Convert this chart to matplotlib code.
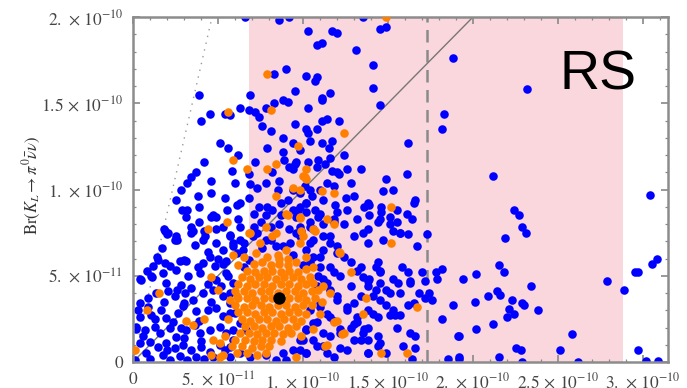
import numpy as np
import matplotlib
matplotlib.use("Agg")
import matplotlib.pyplot as plt

# values in units of 1e-11 : (Br(K+ -> pi+ nu nu), Br(KL -> pi0 nu nu))
blue_points = [
    # upper part of the plot
    (6.6, 20.0), (8.6, 19.8), (9.2, 20.0), (10.3, 19.2), (11.7, 19.2), (12.0, 19.1), (13.5, 20.0),
    (14.5, 19.3), (14.9, 19.4), (10.8, 18.4), (11.1, 18.5), (13.1, 18.1), (14.1, 17.2), (9.0, 17.0),
    (8.3, 16.7), (10.2, 16.6), (10.8, 16.5), (10.7, 16.3), (14.1, 15.9), (9.5, 15.7), (3.9, 15.5),
    (6.9, 15.5), (11.6, 15.6), (8.8, 15.2), (9.1, 15.1), (11.1, 15.3), (8.3, 15.0), (14.5, 14.9),
    (7.8, 14.7), (10.3, 14.7), (6.3, 14.7), (6.8, 14.6), (7.2, 14.5), (5.4, 14.4), (5.7, 14.3),
    (4.5, 14.4), (18.8, 17.6), (23.2, 15.8), (11.1, 15.2),
    # 7e-11 .. 14e-11
    (4.0, 14.0), (7.4, 14.2), (7.6, 13.7), (9.5, 13.8), (10.2, 13.5), (10.3, 13.3), (5.1, 12.7),
    (5.6, 12.4), (7.9, 12.4), (8.8, 12.2), (8.9, 11.7), (9.8, 12.3), (4.2, 11.6), (9.5, 11.5),
    (9.4, 11.2), (3.7, 11.0), (3.4, 10.7), (3.2, 10.4), (2.8, 10.0), (4.6, 10.5), (4.6, 9.8),
    (3.8, 9.6), (2.5, 9.4), (2.9, 8.8), (6.1, 9.1), (6.8, 10.9), (6.9, 10.3), (7.3, 10.1), (6.8, 9.5),
    (8.2, 11.0), (8.6, 10.5), (8.5, 10.0), (4.6, 8.4), (4.9, 8.4), (3.1, 8.4), (3.4, 7.8), (3.5, 7.6),
    (6.2, 8.3), (6.3, 7.8), (5.3, 7.8), (3.9, 8.1), (4.2, 7.6), (2.5, 7.3), (1.9, 7.6), (7.4, 9.0),
    (7.8, 8.5), (8.2, 8.8), (8.7, 9.2), (9.1, 9.4), (9.7, 8.8), (10.2, 8.7), (7.1, 7.8), (7.5, 8.1),
    (8.1, 7.8), (8.6, 8.0), (9.2, 7.7), (9.9, 7.6), (10.4, 7.8),
    (18.3, 14.4), (18.2, 13.5), (10.8, 13.5), (11.1, 14.0), (11.4, 14.1), (12.1, 14.0), (10.4, 12.8),
    (11.1, 12.7), (11.5, 12.4), (11.7, 12.8), (16.2, 12.7), (9.4, 12.7), (10.3, 11.6), (10.9, 11.7),
    (11.6, 11.8), (9.6, 11.6), (9.2, 11.3), (10.8, 11.3), (11.3, 11.5), (13.4, 11.2), (11.7, 11.1),
    (12.0, 11.0), (12.1, 10.9), (16.1, 10.9), (14.9, 10.6), (14.7, 9.9), (15.3, 10.0), (16.6, 9.4),
    (13.8, 9.2), (13.9, 9.1), (14.6, 9.0), (14.6, 8.7), (13.9, 8.5), (16.1, 8.6), (16.4, 8.3),
    (15.1, 8.4), (15.1, 8.0), (15.5, 8.1), (14.4, 8.1), (15.7, 7.5), (16.2, 7.4), (17.3, 7.4),
    (13.5, 7.5), (11.2, 9.4), (11.9, 9.1), (12.0, 8.7), (11.8, 8.3), (11.6, 7.3), (9.4, 10.0),
    (9.8, 9.8), (10.1, 10.2), (10.4, 10.0), (10.5, 9.6), (10.2, 9.2), (9.8, 9.0), (10.7, 8.8),
    (10.9, 8.4), (10.4, 8.1), (9.8, 7.8), (10.6, 7.7), (11.2, 8.0), (9.6, 8.4),
    (12.4, 12.0), (12.8, 10.4), (13.0, 9.6), (12.5, 9.5), (13.2, 8.3), (12.4, 8.0), (11.4, 10.4),
    (11.0, 10.0), (11.8, 10.2), (12.6, 11.2), (8.8, 13.0), (8.1, 13.4), (6.2, 12.0), (7.2, 11.6),
    (6.0, 10.4), (5.4, 9.5), (5.8, 11.1), (7.8, 10.4),
    # middle band right of the core
    (15.3, 7.6), (13.8, 6.9), (14.4, 5.8), (14.3, 5.5), (15.8, 5.5), (16.2, 5.2), (17.0, 5.2),
    (16.3, 4.7), (17.8, 5.2), (18.2, 5.4), (17.9, 4.8), (17.2, 4.7), (19.4, 4.8), (15.3, 4.8),
    (15.6, 4.6), (15.1, 4.0), (14.5, 5.2), (14.5, 4.6), (14.3, 4.2), (13.8, 4.7), (16.8, 4.0),
    (17.4, 4.0), (17.6, 3.6), (17.2, 3.7), (18.8, 3.3), (16.2, 3.3), (14.9, 3.3), (15.1, 2.7),
    (15.4, 2.7), (15.7, 2.7), (18.2, 2.5), (16.6, 1.5), (19.1, 1.5), (15.9, 0.9), (16.6, 0.8),
    (18.5, 0.2), (19.2, 0.2), (16.4, 0.2), (14.4, 0.9), (12.2, 0.8), (13.8, 0.5), (13.2, 2.3),
    (13.6, 1.9), (14.4, 1.5), (13.8, 1.3), (12.4, 6.1), (12.8, 5.8), (13.2, 5.3), (13.5, 4.9),
    (13.8, 4.4), (14.1, 3.8), (13.4, 3.8), (13.0, 3.4), (12.6, 3.0), (13.8, 3.0), (14.4, 2.6),
    (13.2, 2.6), (12.8, 2.0), (12.2, 1.9), (11.6, 1.5), (13.0, 1.3), (13.5, 1.7), (11.6, 6.9),
    (12.0, 6.3), (11.2, 6.5), (10.6, 6.1), (10.4, 5.8), (11.0, 5.5), (11.8, 5.2), (11.2, 4.8),
    (10.8, 4.4), (11.6, 4.2), (12.0, 3.6), (11.0, 3.4), (10.4, 3.0), (11.4, 2.8), (11.8, 2.4),
    (10.8, 2.3), (10.2, 1.9), (11.2, 1.7), (10.0, 1.3), (10.8, 0.9), (9.8, 0.7), (11.4, 0.5),
    (11.0, 6.1), (11.6, 5.5), (12.2, 5.0), (12.8, 4.4), (11.4, 4.6), (12.0, 3.8), (12.6, 3.2),
    (11.0, 3.2), (11.6, 2.6), (13.0, 2.2), (12.2, 1.7), (13.4, 1.3), (13.8, 2.0), (14.1, 2.8),
    (14.5, 3.6), (13.4, 5.5), (13.9, 4.8), (14.5, 5.3), (14.9, 4.2), (15.3, 3.0), (15.7, 4.0),
    (16.3, 4.6), (16.5, 3.4), (15.5, 2.0), (16.3, 1.7), (14.5, 1.1), (13.8, 0.5), (14.9, 0.5),
    (12.6, 0.7), (11.2, 0.9), (11.8, 0.3), (10.2, 0.5), (10.6, 1.3),
    (3.2, 8.8), (3.9, 9.0), (4.7, 8.5), (5.5, 8.8), (6.3, 9.2), (7.1, 8.6), (7.9, 9.0), (8.7, 8.5),
    (9.4, 8.8), (10.2, 9.2), (11.0, 8.6), (11.8, 8.1), (12.6, 8.8), (13.6, 9.0), (14.5, 8.3),
    (15.5, 8.8), (16.5, 9.2), (3.4, 7.5), (4.1, 7.1), (4.9, 7.7), (5.7, 7.3), (6.5, 6.9), (7.3, 7.5),
    (8.1, 7.1), (8.8, 6.7), (9.6, 7.5), (10.4, 6.9), (11.2, 7.3), (12.0, 6.7), (13.0, 7.3),
    (13.8, 7.7), (14.7, 7.1), (15.7, 7.5), (16.7, 6.7), (3.0, 5.9), (3.8, 5.5), (4.5, 6.1),
    (5.3, 5.7), (6.1, 6.3),
    # right hand side
    (21.2, 10.8), (22.4, 8.8), (22.7, 8.5), (22.9, 7.8), (23.1, 7.5), (21.9, 7.2), (30.4, 9.7),
    (30.8, 6.0), (30.5, 5.7), (29.5, 5.2), (29.7, 5.2), (21.5, 5.6), (21.8, 5.2), (20.2, 5.1),
    (27.9, 4.7), (28.9, 4.2), (23.4, 4.4), (20.9, 3.8), (21.4, 4.1), (21.6, 3.9), (20.1, 3.5),
    (22.3, 3.6), (22.9, 3.4), (23.0, 3.3), (22.1, 3.1), (22.0, 2.6), (22.4, 2.8), (23.8, 3.0),
    (21.2, 2.2), (20.2, 1.9), (25.8, 1.6), (22.5, 0.8), (22.8, 0.7), (25.1, 0.7), (29.7, 0.7),
    (21.5, 0.3), (22.9, 0.0), (26.2, 0.0), (30.2, 0.05), (30.9, 0.05), (19.2, 1.5), (19.2, 0.3),
    # lower left
    (1.8, 7.7), (2.0, 7.4), (2.6, 7.1), (1.7, 6.6), (1.4, 6.1), (0.8, 5.3), (1.1, 4.9), (0.4, 4.8),
    (0.2, 1.9), (0.6, 1.5),
    (2.06, 7.48), (2.45, 7.09), (3.63, 6.80), (4.22, 7.29), (4.90, 6.90), (5.69, 7.38), (6.27, 7.09),
    (5.29, 6.51), (5.88, 6.71), (1.47, 5.93), (1.86, 5.74), (2.75, 5.83), (3.14, 5.83), (4.12, 5.74),
    (4.80, 5.54), (5.49, 5.83), (1.18, 5.54), (2.16, 5.54), (1.08, 4.96), (1.76, 5.16), (2.55, 5.35),
    (3.24, 4.96), (3.92, 5.16), (4.90, 4.77), (5.49, 5.16), (1.96, 4.57), (2.84, 4.48), (0.49, 4.77),
    (0.88, 3.70), (1.37, 3.99), (2.06, 4.09), (2.45, 3.80), (3.04, 3.99), (3.53, 3.60), (4.12, 3.99),
    (4.71, 4.19), (5.29, 3.80), (5.69, 3.99), (0.39, 3.41), (0.29, 3.02), (1.08, 2.73), (1.67, 3.02),
    (1.96, 2.54), (2.65, 2.83), (2.94, 3.22), (3.73, 2.93), (4.41, 3.02), (4.90, 3.12), (5.29, 2.64),
    (5.69, 2.83), (2.35, 2.34), (0.20, 2.05), (0.69, 1.86), (1.27, 2.05), (1.57, 1.67), (2.16, 1.96),
    (2.55, 1.47), (3.14, 1.86), (3.63, 2.15), (3.92, 1.67), (4.51, 1.86), (5.10, 2.05), (5.49, 1.67),
    (5.88, 1.86), (0.39, 1.09), (0.98, 1.18), (1.47, 0.89), (1.96, 1.09), (2.45, 0.79), (2.94, 0.99),
    (3.43, 0.70), (4.02, 0.89), (4.51, 0.60), (5.10, 0.99), (5.69, 0.89), (0.78, 0.50), (1.76, 0.41),
    (2.75, 0.35), (3.73, 0.31), (4.71, 0.31), (5.69, 0.31), (6.27, 0.50), (6.86, 0.31), (7.84, 0.41),
    (5.88, 6.90), (6.47, 6.51), (7.06, 7.29), (7.84, 7.09), (8.43, 6.71), (9.22, 6.90), (9.80, 7.29),
    (10.2, 6.51), (10.6, 7.09), (5.88, 4.57), (5.69, 3.41), (5.98, 2.83), (6.27, 2.25), (6.67, 1.86),
    (5.88, 1.28), (10.2, 1.86), (9.80, 1.28), (10.6, 2.25), (8.82, 0.50), (9.41, 0.70), (10.2, 0.50),
    (0.1, 0.1), (1.0, 0.2), (2.2, 0.1), (3.2, 0.1), (4.2, 0.2), (8.4, 0.1), (9.0, 0.1),
    (4.4, 6.4), (5.0, 6.0), (6.8, 5.9), (7.6, 6.6), (9.4, 6.2), (10.0, 5.6), (10.9, 5.0), (5.6, 5.0),
    (5.2, 4.4), (4.4, 4.5), (3.4, 4.3), (2.6, 4.2), (3.0, 3.4), (4.6, 3.5), (3.9, 2.4), (2.8, 2.0),
    (1.3, 2.5), (0.9, 3.2), (4.0, 1.2), (3.0, 1.4), (2.0, 0.7), (0.4, 2.6), (1.8, 3.5), (5.4, 0.7),
    (6.5, 5.5),
]

orange_points = [
    (7.9, 16.7), (5.6, 14.5), (8.1, 14.6), (14.9, 20.0), (9.7, 12.5), (5.9, 11.7), (6.7, 11.2),
    (7.9, 11.2), (8.4, 11.5), (10.2, 11.2), (10.1, 10.7), (9.4, 10.1), (8.4, 9.6), (9.8, 10.0),
    (9.1, 8.5), (9.8, 8.4), (5.5, 8.1), (4.4, 7.7), (6.8, 7.5), (7.8, 7.8), (8.4, 7.5), (9.9, 7.6),
    (12.4, 13.3), (10.0, 10.8), (10.2, 10.6), (11.1, 9.9), (11.8, 9.8), (15.2, 9.0), (11.4, 8.3),
    (11.8, 8.0), (10.7, 7.6), (10.0, 7.3), (15.2, 6.9), (16.7, 3.2), (13.7, 3.7), (13.5, 2.8),
    (11.8, 2.3), (12.0, 2.4), (12.3, 1.6), (11.3, 0.9), (14.6, 0.5), (16.1, 0.5), (12.1, 6.4),
    (12.8, 5.2), (11.6, 4.0), (11.1, 3.5), (10.6, 1.9), (9.9, 1.5), (9.6, 0.3), (1.5, 4.0),
    (0.8, 3.0), (0.1, 0.7), (4.6, 4.9), (5.9, 6.2), (5.0, 4.2), (3.1, 2.4), (3.5, 2.15), (4.2, 2.5),
    (4.7, 1.3), (5.1, 1.1), (4.6, 0.4), (5.3, 0.4), (6.1, 3.8), (6.9, 7.5), (7.45, 6.9), (8.2, 7.3),
    (9.0, 6.5), (9.8, 6.9), (6.5, 6.1), (7.25, 6.3), (8.6, 6.0), (10.2, 6.1), (9.0, 8.6), (9.8, 8.35),
    (10.6, 7.7), (12.2, 6.3), (12.4, 1.7), (11.4, 1.0), (5.1, 0.3),
    # dense core around the SM point
    (7.9, 6.1), (8.5, 6.2), (9.1, 6.0),
    (7.1, 5.7), (7.6, 5.8), (8.1, 5.6), (8.6, 5.7), (9.1, 5.6), (9.6, 5.8),
    (6.7, 5.3), (7.2, 5.2), (7.7, 5.3), (8.2, 5.3), (8.7, 5.2), (9.2, 5.3), (9.7, 5.2), (10.2, 5.4),
    (6.4, 4.9), (6.9, 4.8), (7.4, 4.9), (7.9, 4.9), (8.4, 4.8), (8.9, 4.9), (9.4, 4.9), (9.9, 4.8),
    (10.4, 4.9),
    (6.2, 4.5), (6.7, 4.4), (7.2, 4.5), (7.7, 4.5), (8.2, 4.4), (8.7, 4.5), (9.2, 4.5), (9.7, 4.4),
    (10.2, 4.5), (10.6, 4.6),
    (6.0, 4.1), (6.5, 4.1), (7.0, 4.0), (7.5, 4.1), (8.0, 4.1), (8.5, 4.0), (9.0, 4.1), (9.5, 4.1),
    (10.0, 4.0), (10.5, 4.1), (10.9, 4.2),
    (6.2, 3.7), (6.7, 3.7), (7.2, 3.6), (7.7, 3.7), (8.2, 3.7), (8.7, 3.6), (9.2, 3.7), (9.7, 3.7),
    (10.2, 3.6), (10.7, 3.7),
    (6.0, 3.3), (6.5, 3.2), (7.0, 3.3), (7.5, 3.3), (8.0, 3.2), (8.5, 3.3), (9.0, 3.3), (9.5, 3.2),
    (10.0, 3.3), (10.5, 3.3),
    (6.2, 2.9), (6.7, 2.9), (7.2, 2.8), (7.7, 2.9), (8.2, 2.9), (8.7, 2.8), (9.2, 2.9), (9.7, 2.9),
    (10.2, 2.8),
    (6.4, 2.5), (6.9, 2.4), (7.4, 2.5), (7.9, 2.5), (8.4, 2.4), (8.9, 2.5), (9.4, 2.5), (9.9, 2.4),
    (6.6, 2.1), (7.1, 2.1), (7.6, 2.0), (8.1, 2.1), (8.6, 2.1), (9.1, 2.0), (9.6, 2.1),
    (6.3, 1.7), (6.8, 1.7), (7.3, 1.6), (7.8, 1.7), (8.3, 1.7), (8.8, 1.6), (9.3, 1.7),
    (6.0, 1.3), (6.6, 1.3), (7.1, 1.2), (7.6, 1.3), (8.1, 1.3), (8.7, 1.2),
    (5.8, 0.9), (6.4, 0.9), (7.0, 0.8), (7.5, 0.9), (8.0, 0.9),
    (6.1, 0.5), (6.7, 0.5), (7.3, 0.4), (7.8, 0.5),
    (5.6, 2.5), (5.4, 1.5), (11.2, 4.4), (11.0, 2.8), (10.6, 5.5), (6.2, 5.6), (5.7, 3.6),
]

sm_point = (8.6, 3.7)

# experimental band (K+ -> pi+ nu nu) and central value
band_lo, band_hi, band_central = 6.8, 28.8, 17.3
gn_slope = 4.3  # Grossman-Nir bound

x_ticks = [0, 5, 10, 15, 20, 25, 30]
x_tick_labels = ['0', r'$5.\,\times\,10^{-11}$', r'$1.\,\times\,10^{-10}$', r'$1.5\,\times\,10^{-10}$',
                 r'$2.\,\times\,10^{-10}$', r'$2.5\,\times\,10^{-10}$', r'$3.\,\times\,10^{-10}$']
y_ticks = [0, 5, 10, 15, 20]
y_tick_labels = ['0', r'$5.\,\times\,10^{-11}$', r'$1.\,\times\,10^{-10}$', r'$1.5\,\times\,10^{-10}$',
                 r'$2.\,\times\,10^{-10}$']

plt.rcParams['mathtext.fontset'] = 'stix'
plt.rcParams['font.family'] = 'STIXGeneral'

unit = 1e-11
xmax, ymax = 31.47, 20.0

fig = plt.figure(figsize=(6.87, 3.88), dpi=100)
ax = fig.add_axes([133 / 687, 1 - 362 / 388, 535 / 687, 345 / 388])

ax.axvspan(band_lo * unit, band_hi * unit, color='#f9d7dc', lw=0, zorder=0)
ax.axvline(band_central * unit, color='#8a8a8a', lw=1.8, ls=(0, (5, 3)), zorder=1)
xx = np.array([0, xmax]) * unit
ax.plot(xx, xx, color='#777777', lw=1.0, zorder=1)
ax.plot(xx, gn_slope * xx, color='#999999', lw=1.0, ls=(0, (1, 4)), zorder=1)

bx, by = np.array(blue_points).T
ox, oy = np.array(orange_points).T
ax.scatter(bx * unit, by * unit, s=38, color='#0000ff', lw=0, zorder=2)
ax.scatter(ox * unit, oy * unit, s=38, color='#ff7f00', lw=0, zorder=3)
ax.scatter([sm_point[0] * unit], [sm_point[1] * unit], s=80, color='black', lw=0, zorder=4)

ax.set_xlim(0, xmax * unit)
ax.set_ylim(0, ymax * unit)
ax.set_xticks(np.array(x_ticks) * unit)
ax.set_xticklabels(x_tick_labels)
ax.set_yticks(np.array(y_ticks) * unit)
ax.set_yticklabels(y_tick_labels)
ax.set_xticks(np.arange(0, 32) * unit, minor=True)
ax.set_yticks(np.arange(0, 21) * unit, minor=True)
ax.tick_params(which='both', direction='in', top=True, right=True, color='#888888',
               labelcolor='#444444', labelsize=12.5)
ax.tick_params(which='major', length=5, width=1.2)
ax.tick_params(which='minor', length=2.5, width=0.9)
ax.tick_params(axis='x', pad=7)
ax.tick_params(axis='y', pad=7)
for sp in ax.spines.values():
    sp.set_color('#8c8c8c')
    sp.set_linewidth(1.8)

fig.text(32 / 687, 1 - 185 / 388, r'$\mathrm{Br}(K_L\to\pi^0\bar{\nu}\nu)$', rotation=90,
         ha='center', va='center', fontsize=12, color='#333333')

ax.text((560 - 133) / 535, (362 - 90) / 345, 'RS', transform=ax.transAxes, ha='left',
        va='baseline', fontsize=40, family='Liberation Sans', color='black', zorder=5)

fig.savefig('out.png', dpi=100)
